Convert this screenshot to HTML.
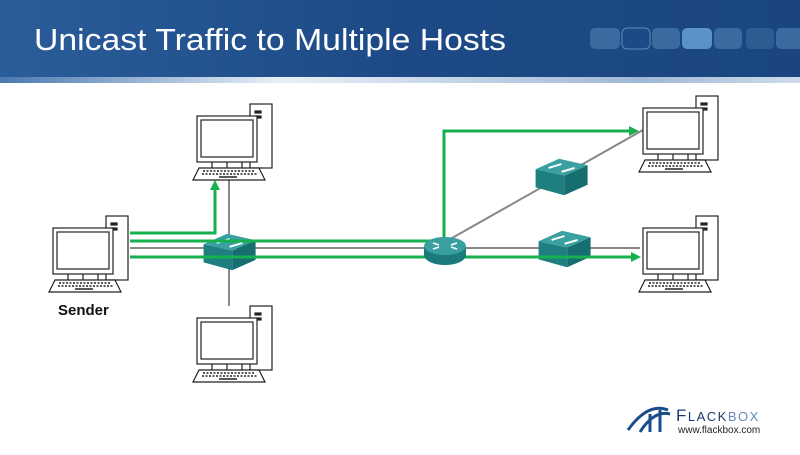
<!DOCTYPE html><html><head><style>body{margin:0;width:800px;height:450px;overflow:hidden;background:#fff;font-family:"Liberation Sans",sans-serif}</style></head><body>
<svg width="800" height="450" xmlns="http://www.w3.org/2000/svg">
<defs>
<linearGradient id="hd" x1="0" x2="1"><stop offset="0" stop-color="#2a5d9a"/><stop offset="0.5" stop-color="#1d4a86"/><stop offset="1" stop-color="#1a4580"/></linearGradient>
<linearGradient id="hl" x1="0" x2="1"><stop offset="0" stop-color="#4a78b0"/><stop offset="0.35" stop-color="#e8f0f8"/><stop offset="0.8" stop-color="#9fb8d6"/><stop offset="1" stop-color="#cfdcea"/></linearGradient>
<g id="pc" fill="#fff" stroke="#222" stroke-width="1.2">
<rect x="53" y="0" width="22" height="64"/>
<rect x="58" y="7" width="6" height="2" fill="#222"/><rect x="58" y="12" width="6" height="2" fill="#222"/>
<rect x="0" y="12" width="60" height="46"/>
<rect x="4" y="16" width="52" height="37"/>
<line x1="15" y1="58" x2="15" y2="64"/><line x1="30" y1="58" x2="30" y2="64"/><line x1="45" y1="58" x2="45" y2="64"/>
<polygon points="2,64 62,64 68,76 -4,76"/>
<line x1="6" y1="67" x2="58" y2="67" stroke-dasharray="2 1.5" stroke-width="1.5"/>
<line x1="5" y1="70" x2="60" y2="70" stroke-dasharray="2 1.5" stroke-width="1.5"/>
<line x1="22" y1="73" x2="40" y2="73" stroke-width="1.5"/>
</g>
<g id="sw" transform="scale(1.3)">
<polygon points="-18,-6 0,-14 22,-9 4,-1" fill="#3aa0a0"/>
<polygon points="-18,-6 4,-1 4,14 -18,8" fill="#1f7f80"/>
<polygon points="4,-1 22,-9 22,6 4,14" fill="#166e70"/>
<line x1="-8" y1="-7" x2="2" y2="-10" stroke="#fff" stroke-width="1.5"/><line x1="2" y1="-4" x2="12" y2="-7" stroke="#fff" stroke-width="1.5"/>
</g>
</defs>
<rect x="0" y="0" width="800" height="79" fill="url(#hd)"/>
<rect x="0" y="77" width="800" height="6" fill="url(#hl)"/>
<text x="34" y="50" font-size="31" fill="#fff" font-family="Liberation Sans Narrow,Liberation Sans,sans-serif" textLength="472" lengthAdjust="spacingAndGlyphs">Unicast Traffic to Multiple Hosts</text>
<g fill="#3a6aa0"><rect x="590" y="28" width="30" height="21" rx="5"/><rect x="622" y="28" width="28" height="21" rx="5" fill="#1d4a86" stroke="#5d88b8"/><rect x="652" y="28" width="28" height="21" rx="5"/><rect x="682" y="28" width="30" height="21" rx="5" fill="#5b92c8"/><rect x="714" y="28" width="28" height="21" rx="5"/><rect x="746" y="28" width="28" height="21" rx="5" fill="#2e5c92"/><rect x="776" y="28" width="28" height="21" rx="5"/></g>

<g stroke="#888" stroke-width="2" fill="none">
<line x1="130" y1="248" x2="640" y2="248"/>
<line x1="229" y1="180" x2="229" y2="306"/>
<line x1="445" y1="242" x2="643" y2="130"/>
</g>
<g stroke="#17b04f" stroke-width="3" fill="none">
<polyline points="130,233 215,233 215,188"/>
<line x1="130" y1="241" x2="430" y2="241"/>
<line x1="130" y1="257" x2="632" y2="257"/>
<polyline points="444,248 444,131 630,131"/>
</g>
<g fill="#17b04f">
<polygon points="215,180 210,190 220,190"/>
<polygon points="641,257 631,252 631,262"/>
<polygon points="639,131 629,126 629,136"/>
</g>
<use href="#pc" x="53" y="216"/>
<use href="#pc" x="197" y="104"/>
<use href="#pc" x="197" y="306"/>
<use href="#pc" x="643" y="96"/>
<use href="#pc" x="643" y="216"/>
<use href="#sw" x="227" y="252"/>
<use href="#sw" x="559" y="177"/>
<use href="#sw" x="562" y="249"/>
<line x1="130" y1="257" x2="632" y2="257" stroke="#17b04f" stroke-width="3"/>
<line x1="130" y1="241" x2="430" y2="241" stroke="#17b04f" stroke-width="3"/>
<g>
<path d="M424,246 v9 a21,10 0 0 0 42,0 v-9 z" fill="#1b7a7c"/>
<ellipse cx="445" cy="246" rx="21" ry="9" fill="#3a9fa0"/>
<path d="M433,243 l6,2 M457,243 l-6,2 M433,249 l6,-2 M457,249 l-6,-2" stroke="#fff" stroke-width="1.6"/>
</g>
<line x1="466" y1="257" x2="632" y2="257" stroke="#17b04f" stroke-width="3"/>
<text x="58" y="315" font-size="15" font-weight="bold" fill="#111">Sender</text>
<g stroke="#1a4c8c" stroke-width="3" fill="none"><path d="M628,430 q20,-28 40,-20"/><path d="M640,432 q14,-22 30,-18"/><line x1="650" y1="414" x2="650" y2="432"/><line x1="660" y1="410" x2="660" y2="432"/></g>
<text x="676" y="421" font-size="17" fill="#1a3a6a" letter-spacing="1.5">F<tspan font-size="13">LACK</tspan><tspan font-size="13" fill="#6a8ab8">BOX</tspan></text>
<text x="678" y="433" font-size="10" fill="#222">www.flackbox.com</text>
</svg>
</body></html>
